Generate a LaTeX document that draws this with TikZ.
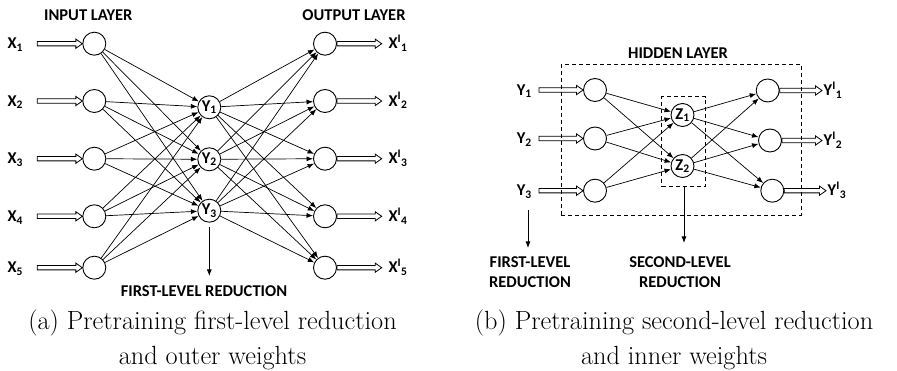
\documentclass[tikz,border=0pt]{standalone}
\usepackage{fontspec}
\newfontfamily\labfont{Carlito}
\usetikzlibrary{arrows.meta}
\tikzset{
  lab/.style={font=\labfont\bfseries\fontsize{16.5}{20}\selectfont, inner sep=0pt},
  neuron/.style={circle, draw, line width=0.9pt, minimum size=23pt, inner sep=0pt,
    font=\labfont\bfseries\fontsize{16.5}{20}\selectfont},
  conn/.style={line width=0.7pt, -{Latex[length=6.5pt,width=5pt]}},
  hollow/.style={line width=0.8pt, line join=miter,
    to path={([yshift=2.2pt]\tikztostart) -- ([xshift=-6.5pt,yshift=2.2pt]\tikztotarget)
      -- ([xshift=-6.5pt,yshift=4.6pt]\tikztotarget) -- (\tikztotarget)
      -- ([xshift=-6.5pt,yshift=-4.6pt]\tikztotarget) -- ([xshift=-6.5pt,yshift=-2.2pt]\tikztotarget)
      -- ([yshift=-2.2pt]\tikztostart) -- cycle}},
  capt/.style={font=\fontsize{26.3}{34}\selectfont, inner sep=0pt, anchor=base},
  dbox/.style={draw, dash pattern=on 4pt off 3pt, line width=0.8pt, inner sep=0pt},
  downarr/.style={line width=0.8pt, -{Latex[length=6.5pt,width=5pt]}},
}
\begin{document}
\begin{tikzpicture}[x=1pt,y=-1pt]
\useasboundingbox (0,0) rectangle (897,371);

% ---------- panel (a) ----------
\node[lab] at (88.3,15.3) {INPUT LAYER};
\node[lab] at (354,15.3) {OUTPUT LAYER};

\foreach \k/\y in {1/43.7,2/101,3/158.7,4/216.3,5/267.7}{
  \node[neuron] (i\k) at (94.3,\y) {};
  \node[neuron] (o\k) at (325,\y) {};
  \node[lab, anchor=base west] (xl\k) at (7.3,\y+5.2) {X\textsubscript{\k}};
  \node[lab, anchor=base west] (xo\k) at (388.3,\y+5.2) {X\textsuperscript{I}\textsubscript{\k}};
  \coordinate (xs\k) at (37.3,\y);
  \coordinate (xe\k) at (381.7,\y);
  \draw[hollow] (xs\k) to (i\k.west);
  \draw[hollow] (o\k.east) to (xe\k);
}
\foreach \k/\y in {1/107.3,2/159.3,3/210.7}{
  \node[neuron] (h\k) at (209.3,\y) {Y\textsubscript{\k}};
}
\foreach \a in {1,...,5}{
  \foreach \b in {1,2,3}{
    \draw[conn] (i\a) -- (h\b);
    \draw[conn] (h\b) -- (o\a);
  }
}
\coordinate (fa) at (209.3,276);
\draw[downarr, shorten <=4pt] (h3.south) -- (fa);
\node[lab] (fl) at (204,291) {FIRST-LEVEL REDUCTION};

\node[capt] (ca1) at (212.5,330) {(a) Pretraining first-level reduction};
\node[capt] (ca2) at (212.5,364) {and outer weights};

% ---------- panel (b) ----------
\node[dbox, minimum width=240pt, minimum height=150.7pt] (hbox) at (681,139.65) {};
\node[lab] at (678,52.7) {HIDDEN LAYER};
\node[dbox, minimum width=43.8pt, minimum height=89.3pt] (zbox) at (683.6,141.35) {};

\foreach \k/\y in {1/90,2/138.5,3/190.7}{
  \node[neuron] (p\k) at (595,\y) {};
  \node[lab, anchor=base west] (yl\k) at (516.7,\y+5.2) {Y\textsubscript{\k}};
  \coordinate (ys\k) at (539,\y);
  \draw[hollow] (ys\k) to (p\k.west);
}
\node[neuron] (z1) at (682.5,115) {Z\textsubscript{1}};
\node[neuron] (z2) at (682.5,166) {Z\textsubscript{2}};

\foreach \k/\x/\y/\e in {1/767.7/90.5/822,2/770/140.5/822,3/772.3/190.7/826}{
  \node[neuron] (q\k) at (\x,\y) {};
  \coordinate (qe\k) at (\e,\y);
  \draw[hollow] (q\k.east) to (qe\k);
  \node[lab, anchor=base west] (yo\k) at (\e+1.5,\y+5.2) {Y\textsuperscript{I}\textsubscript{\k}};
}
\foreach \a in {1,2,3}{
  \foreach \b in {1,2}{
    \draw[conn] (p\a) -- (z\b);
    \draw[conn] (z\b) -- (q\a);
  }
}
\coordinate (ya) at (528,210);
\coordinate (yb) at (528,248);
\draw[downarr] (ya) -- (yb);
\node[lab, align=center] (f2) at (530,271.7) {FIRST-LEVEL\\REDUCTION};

\coordinate (zb) at (684,243);
\draw[downarr] (zbox.south -| zb) -- (zb);
\node[lab, align=center] (s2) at (680,271.7) {SECOND-LEVEL\\REDUCTION};

\node[capt] (cb1) at (674,330) {(b) Pretraining second-level reduction};
\node[capt] (cb2) at (674,364) {and inner weights};
\end{tikzpicture}
\end{document}
